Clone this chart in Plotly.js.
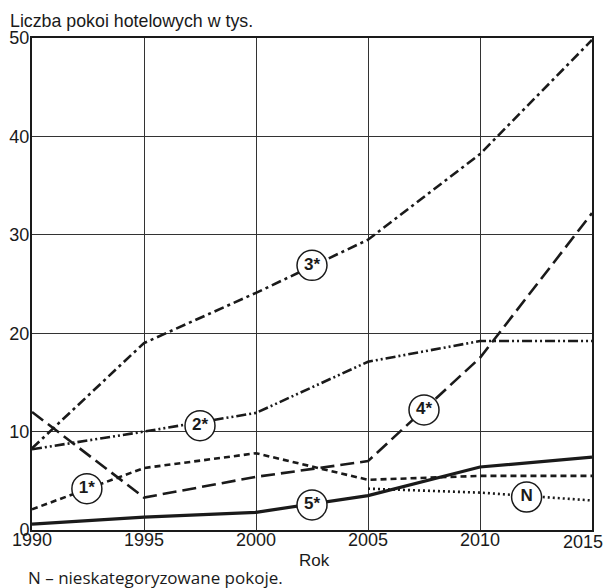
<!DOCTYPE html>
<html>
<head>
<meta charset="utf-8">
<script src="https://cdn.plot.ly/plotly-3.0.1.min.js"></script>
<style>html,body{margin:0;padding:0;background:#fff;}</style>
</head>
<body>
<div id="chart" style="width:605px;height:588px;"></div>
<script>
const years = [1990, 1995, 2000, 2005, 2010, 2015];
const s1 = [2.1, 6.3, 7.8, 5.1, 5.5, 5.5];
const s2 = [8.2, 10.0, 11.9, 17.1, 19.2, 19.2];
const s3 = [8.3, 19.0, 24.1, 29.5, 38.2, 49.8];
const s4 = [12.0, 3.3, 5.4, 7.0, 17.5, 32.2];
const s5 = [0.6, 1.3, 1.8, 3.5, 6.4, 7.4];
const yearsN = [2005, 2010, 2015];
const sN = [4.2, 3.8, 3.0];

const labelText = ['1*', '2*', '3*', '4*', '5*', 'N'];
const labelX = [1992.45, 1997.5, 2002.5, 2007.5, 2002.5, 2012.08];
const labelY = [4.2, 10.6, 26.9, 12.2, 2.55, 3.35];

const yTicks = [0, 10, 20, 30, 40, 50];
const xTicks = [1990, 1995, 2000, 2005, 2010, 2015];

const ink = '#1a1a1a';
function line(x, y, dash, width) {
  return {x: x, y: y, type: 'scatter', mode: 'lines', hoverinfo: 'skip',
    line: {color: ink, width: width, dash: dash}};
}

const traces = [
  line(years, s1, '6px,4px', 2.6),
  line(years, s2, '10px,3px,2px,3px,2px,3px', 2.6),
  line(years, s3, '10px,4px,3px,4px', 2.6),
  line(years, s4, '14px,6px', 2.6),
  line(years, s5, 'solid', 3.2),
  line(yearsN, sN, '2px,3px', 2.6),
  {x: labelX, y: labelY, text: labelText, type: 'scatter', mode: 'markers+text',
    hoverinfo: 'skip', textposition: 'middle center',
    marker: {symbol: 'circle', size: 30, color: '#fff', line: {color: ink, width: 1.5}},
    textfont: {family: 'Liberation Sans, Arial, sans-serif', size: 17, color: ink, weight: 'bold'}}
];

// last x tick label is drawn as an annotation so it stays inside the page
const lastX = xTicks[xTicks.length - 1];
const xTickText = xTicks.map((v, i) => i === xTicks.length - 1 ? ' ' : String(v));

const layout = {
  width: 605, height: 588,
  margin: {l: 32, r: 13, t: 38, b: 58, pad: 0},
  paper_bgcolor: '#fff', plot_bgcolor: '#fff',
  showlegend: false,
  font: {family: 'Liberation Sans, Arial, sans-serif', color: ink, size: 18},
  xaxis: {range: [1990, 2015], tickvals: xTicks, ticktext: xTickText,
    showgrid: true, gridcolor: '#333', gridwidth: 1, zeroline: false,
    showline: true, mirror: true, linecolor: ink, linewidth: 2, ticks: '', ticklen: 0,
    ticklabelstandoff: -8, tickfont: {size: 18}, fixedrange: true},
  yaxis: {range: [0, 50], tickvals: yTicks, ticktext: yTicks.map(String),
    showgrid: true, gridcolor: '#333', gridwidth: 1, zeroline: false,
    showline: true, mirror: true, linecolor: ink, linewidth: 2, ticks: '', ticklen: 0,
    ticklabelstandoff: -3, tickfont: {size: 18}, fixedrange: true},
  annotations: [
    {text: String(lastX), xref: 'x', yref: 'paper', x: lastX, y: 0, xanchor: 'right',
      yanchor: 'middle', xshift: 13, yshift: -12, showarrow: false, font: {size: 18, color: ink}},
    {text: 'Liczba pokoi hotelowych w tys.', xref: 'paper', yref: 'paper',
      x: -0.043, y: 1, xanchor: 'left', yanchor: 'bottom', yshift: 5, showarrow: false,
      font: {size: 17.8, color: ink}},
    {text: 'Rok', xref: 'paper', yref: 'paper', x: 0.505, y: -0.061, xanchor: 'center',
      yanchor: 'middle', showarrow: false, font: {size: 17, color: ink}},
    {text: 'N – nieskategoryzowane pokoje.', xref: 'paper', yref: 'paper',
      x: -0.01, y: -0.097, xanchor: 'left', yanchor: 'middle', showarrow: false,
      font: {family: 'Open Sans, sans-serif', size: 17, color: ink}}
  ]
};

Plotly.newPlot('chart', traces, layout, {displayModeBar: false, staticPlot: true});
</script>
</body>
</html>
